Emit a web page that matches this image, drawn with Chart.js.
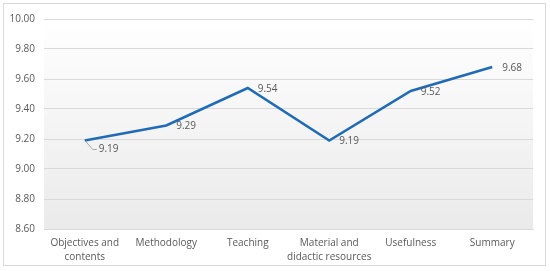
<!DOCTYPE html>
<html>
<head>
<meta charset="utf-8">
<script src="https://cdn.jsdelivr.net/npm/chart.js@4.4.0/dist/chart.umd.min.js"></script>
<style>
  html, body { margin: 0; padding: 0; background: #fff; }
  #wrap {
    position: absolute; left: 3px; top: 3px;
    width: 541px; height: 261px;
    border: 1px solid #d9d9d9;
  }
</style>
</head>
<body>
<div id="wrap"><canvas id="chart" width="541" height="261"></canvas></div>
<script>
// categorieen en waarden
const categories = [
  ['Objectives and', 'contents'],
  'Methodology',
  'Teaching',
  ['Material and', 'didactic resources'],
  'Usefulness',
  'Summary'
];
const scores = [9.19, 9.29, 9.54, 9.19, 9.52, 9.68];
const yMin = 8.6, yMax = 10.0, yStep = 0.2;

const textColor = '#595959';
const gridColor = '#d9d9d9';
const lineColor = '#1f6bb8';

// achtergrond verloop in de plot area
const bgPlugin = {
  id: 'bg',
  beforeDraw(chart) {
    const { ctx, chartArea: a } = chart;
    const g = ctx.createLinearGradient(0, a.top, 0, a.bottom);
    g.addColorStop(0, '#ffffff');
    g.addColorStop(1, '#eaeaea');
    ctx.save();
    ctx.fillStyle = g;
    ctx.fillRect(a.left, a.top, a.right - a.left, a.bottom - a.top);
    ctx.restore();
  }
};

// waarde labels naast de punten
const labelPlugin = {
  id: 'valueLabels',
  afterDatasetsDraw(chart) {
    const { ctx } = chart;
    const meta = chart.getDatasetMeta(0);
    ctx.save();
    ctx.font = '10px "Open Sans"';
    ctx.fillStyle = textColor;
    ctx.textBaseline = 'middle';
    meta.data.forEach((pt, i) => {
      const txt = scores[i].toFixed(2);
      if (i === 0) {
        // leader line voor het eerste label
        ctx.strokeStyle = '#a6a6a6';
        ctx.lineWidth = 1;
        ctx.beginPath();
        ctx.moveTo(pt.x + 1, pt.y + 1);
        ctx.lineTo(pt.x + 8, pt.y + 9);
        ctx.lineTo(pt.x + 12, pt.y + 9);
        ctx.stroke();
        ctx.fillText(txt, pt.x + 14, pt.y + 9);
      } else {
        ctx.fillText(txt, pt.x + 10, pt.y + 1);
      }
    });
    ctx.restore();
  }
};

new Chart(document.getElementById('chart'), {
  type: 'line',
  data: {
    labels: categories,
    datasets: [{
      data: scores,
      borderColor: lineColor,
      borderWidth: 2.5,
      pointRadius: 0,
      tension: 0,
      fill: false
    }]
  },
  options: {
    responsive: false,
    animation: false,
    layout: { padding: { top: 4, right: 12, left: 0, bottom: 0 } },
    plugins: {
      legend: { display: false },
      tooltip: { enabled: false }
    },
    scales: {
      x: {
        offset: true,
        grid: { display: false },
        border: { display: true, color: gridColor },
        afterFit(scale) { scale.height = 36; },
        ticks: {
          autoSkip: false,
          color: textColor,
          font: { family: 'Open Sans', size: 10, lineHeight: 1.4 },
          maxRotation: 0,
          padding: -1
        }
      },
      y: {
        min: yMin,
        max: yMax,
        grid: { color: gridColor, drawTicks: false },
        border: { display: false },
        afterFit(scale) { scale.width = 40; },
        ticks: {
          stepSize: yStep,
          color: textColor,
          font: { family: 'Open Sans', size: 10 },
          padding: 9,
          callback: v => v.toFixed(2)
        }
      }
    }
  },
  plugins: [bgPlugin, labelPlugin]
});
</script>
</body>
</html>
